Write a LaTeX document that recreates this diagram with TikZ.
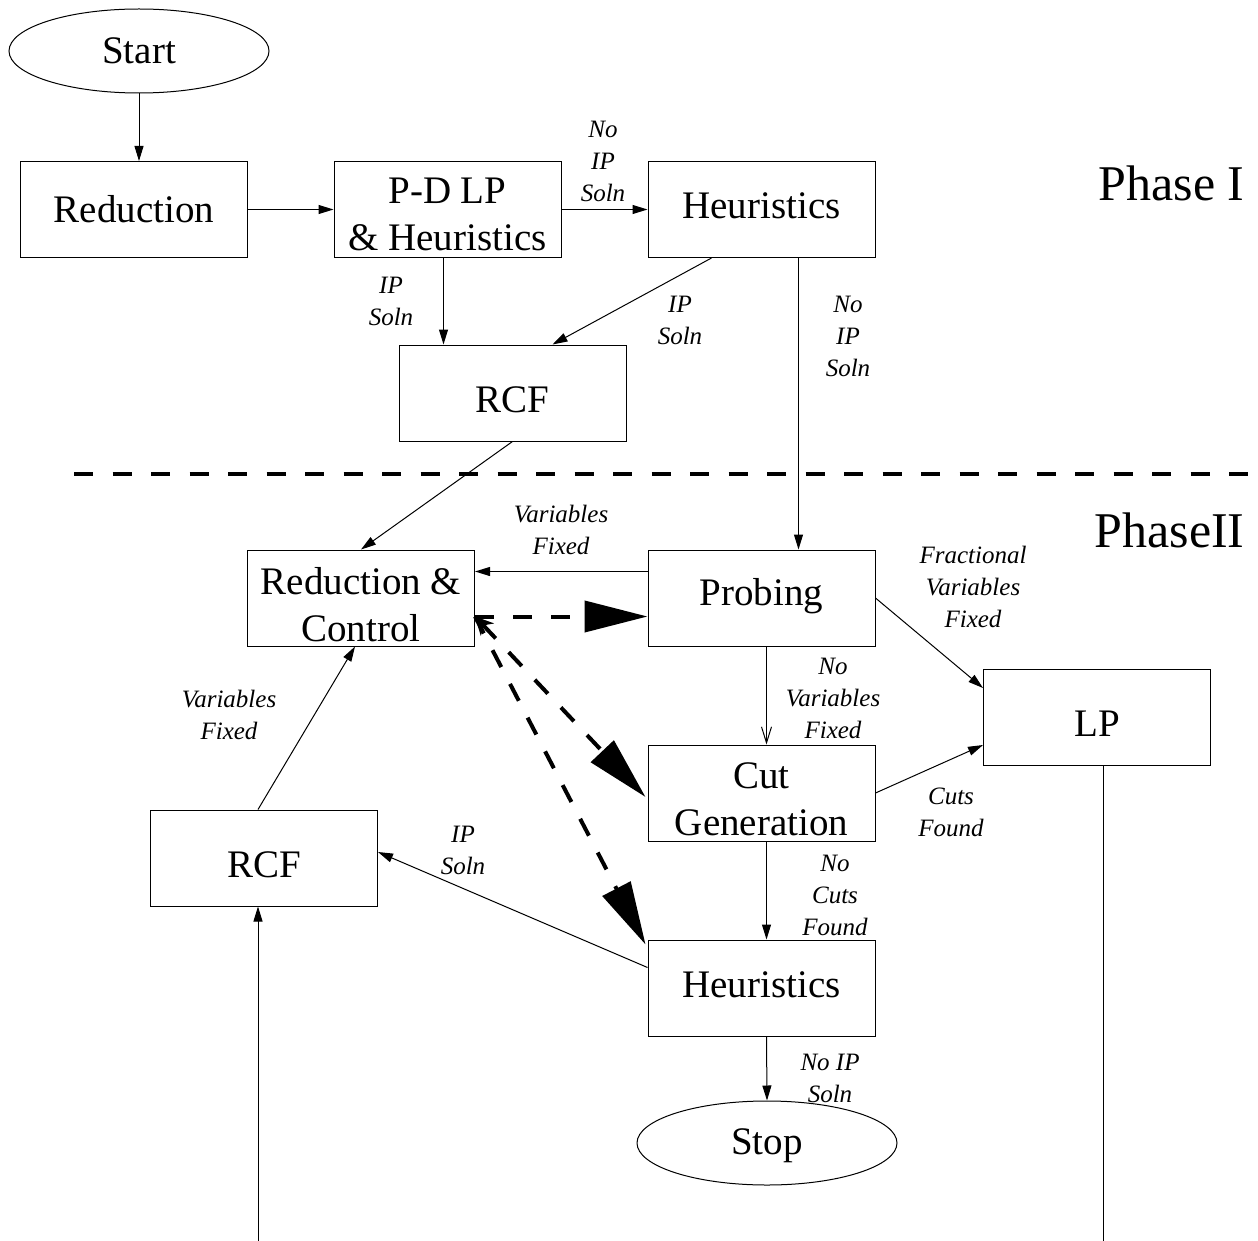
\documentclass[tikz,border=0pt]{standalone}
\usepackage{fontspec}
\setmainfont{Liberation Serif}
\usetikzlibrary{arrows.meta,positioning,calc,shapes.geometric}

\tikzset{
  procbox/.style={draw,line width=0.5pt,minimum width=113.5pt,minimum height=48pt,
    inner sep=0pt,align=center,font=\fontsize{19.5}{23.5}\selectfont},
  termnode/.style={draw,ellipse,line width=0.5pt,minimum width=130pt,minimum height=42pt,
    inner sep=0pt,font=\fontsize{19.5}{23.5}\selectfont},
  txtdp/.style={text depth=#1},
  txtht/.style={text height=#1,text depth=0pt},
  edgelbl/.style={align=center,inner sep=0pt,font=\fontsize{12.5}{16}\selectfont\itshape},
  flow/.style={line width=0.5pt,-{Triangle[length=7.5pt,width=4.5pt]}},
  ctrl/.style={line width=2pt,dash pattern=on 9.5pt off 9.5pt,-{Triangle[length=31.5pt,width=15.5pt]}}
}

\begin{document}
\begin{tikzpicture}[x=0.5pt,y=-0.5pt,>=Stealth]
  \useasboundingbox (0,0) rectangle (1258,1241);

  % Phase I
  \node[termnode] (start) at (139,51) {Start};
  \node[procbox] (red) at (134,209.5) {Reduction};
  \node[procbox,txtht=41.4pt] (pdlp) at (447.5,209.5) {P-D LP\\\& Heuristics};
  \node[procbox,txtdp=4pt] (heurA) at (761.5,209.5) {Heuristics};
  \node[procbox,txtht=19.9pt] (rcfA) at (512.5,393) {RCF};
  \node[anchor=east,inner sep=0pt,font=\fontsize{25}{30}\selectfont] (ph1) at (1245,183) {Phase I};

  \draw[line width=2pt,dash pattern=on 9.5pt off 9.75pt] (74,474) -- (1258,474);

  % Phase II
  \node[anchor=east,inner sep=0pt,font=\fontsize{25}{30}\selectfont] (ph2) at (1245,530) {PhaseII};
  \node[procbox,txtht=43.5pt] (redctl) at (361,598) {Reduction \&\\Control};
  \node[procbox,txtdp=6.2pt] (prob) at (761.5,598) {Probing};
  \node[procbox,txtht=19.4pt] (lp) at (1097,717.5) {LP};
  \node[procbox,txtht=42.4pt] (cut) at (761.5,793) {Cut\\Generation};
  \node[procbox,txtht=19.9pt] (rcfB) at (264,858) {RCF};
  \node[procbox,txtdp=3pt] (heurB) at (761.5,988) {Heuristics};
  \node[termnode,txtdp=1.2pt] (stop) at (767,1143) {Stop};

  \draw[flow] (start) -- (start |- red.north);
  \draw[flow] (red) -- (pdlp);
  \draw[flow] (pdlp) -- (heurA);
  \node[edgelbl] (l1) at (603,161) {No\\IP\\Soln};
  \draw[flow] ($(pdlp.south)+(-4,0)$) -- ($(pdlp.south |- rcfA.north)+(-4,0)$);
  \node[edgelbl] (l2) at (391,301) {IP\\Soln};
  \draw[flow] ($(heurA.south)+(-50,0)$) -- ($(rcfA.north)+(40,0)$);
  \node[edgelbl] (l3) at (680,320) {IP\\Soln};
  \draw[flow] ($(heurA.south)+(37,0)$) -- ($(prob.north)+(37,0)$);
  \node[edgelbl] (l4) at (848,336) {No\\IP\\Soln};
  \draw[flow] (rcfA.south) -- (redctl.north);

  \draw[flow] ($(prob.north west)+(0,22)$) -- ($(redctl.north east)+(0,22)$);
  \node[edgelbl] (l5) at (561,530) {Variables\\Fixed};
  \draw[ctrl] ($(redctl.north east)+(0,67)$) -- ($(prob.north west)+(0,67)$);
  \draw[ctrl,{Stealth[length=9pt,width=9pt]}-{Triangle[length=31.5pt,width=15.5pt]}]
    ($(redctl.north east)+(0,67)$) -- ($(cut.west)+(-2,4)$);
  \draw[ctrl] ($(redctl.north east)+(0,67)$) -- ($(heurB.north west)+(-2,5)$);

  \draw[flow] (prob.east) -- ($(lp.north west)+(0,19)$);
  \node[edgelbl] (l6) at (973,587) {Fractional\\Variables\\Fixed};
  \draw[line width=0.5pt,-{Straight Barb[length=8pt,width=5pt]}] ($(prob.south)+(5,0)$) -- ($(cut.north)+(5,0)$);
  \node[edgelbl] (l7) at (833,698) {No\\Variables\\Fixed};
  \draw[flow] (cut.east) -- ($(lp.south west)+(0,-21)$);
  \node[edgelbl] (l8) at (951,812) {Cuts\\Found};
  \draw[flow] ($(cut.south)+(5,0)$) -- ($(heurB.north)+(5,0)$);
  \node[edgelbl] (l9) at (835,895) {No\\Cuts\\Found};
  \draw[flow] ($(heurB.north west)+(0,28)$) -- ($(rcfB.east)+(0,-6)$);
  \node[edgelbl] (l10) at (463,850) {IP\\Soln};
  \draw[flow] ($(heurB.south)+(5,0)$) -- (stop.north);
  \node[edgelbl] (l11) at (830,1078) {No IP\\Soln};
  \draw[flow] ($(rcfB.north)+(-6,0)$) -- ($(redctl.south)+(-6,0)$);
  \node[edgelbl] (l12) at (229,715) {Variables\\Fixed};

  % loop back from LP (runs off the page)
  \coordinate (lpEnd) at (1103,1241);
  \coordinate (loopL) at (258,1241);
  \draw[line width=0.5pt] ($(lp.south)+(6,0)$) -- (lpEnd);
  \draw[flow] (loopL) -- ($(rcfB.south)+(-6,0)$);
\end{tikzpicture}
\end{document}
